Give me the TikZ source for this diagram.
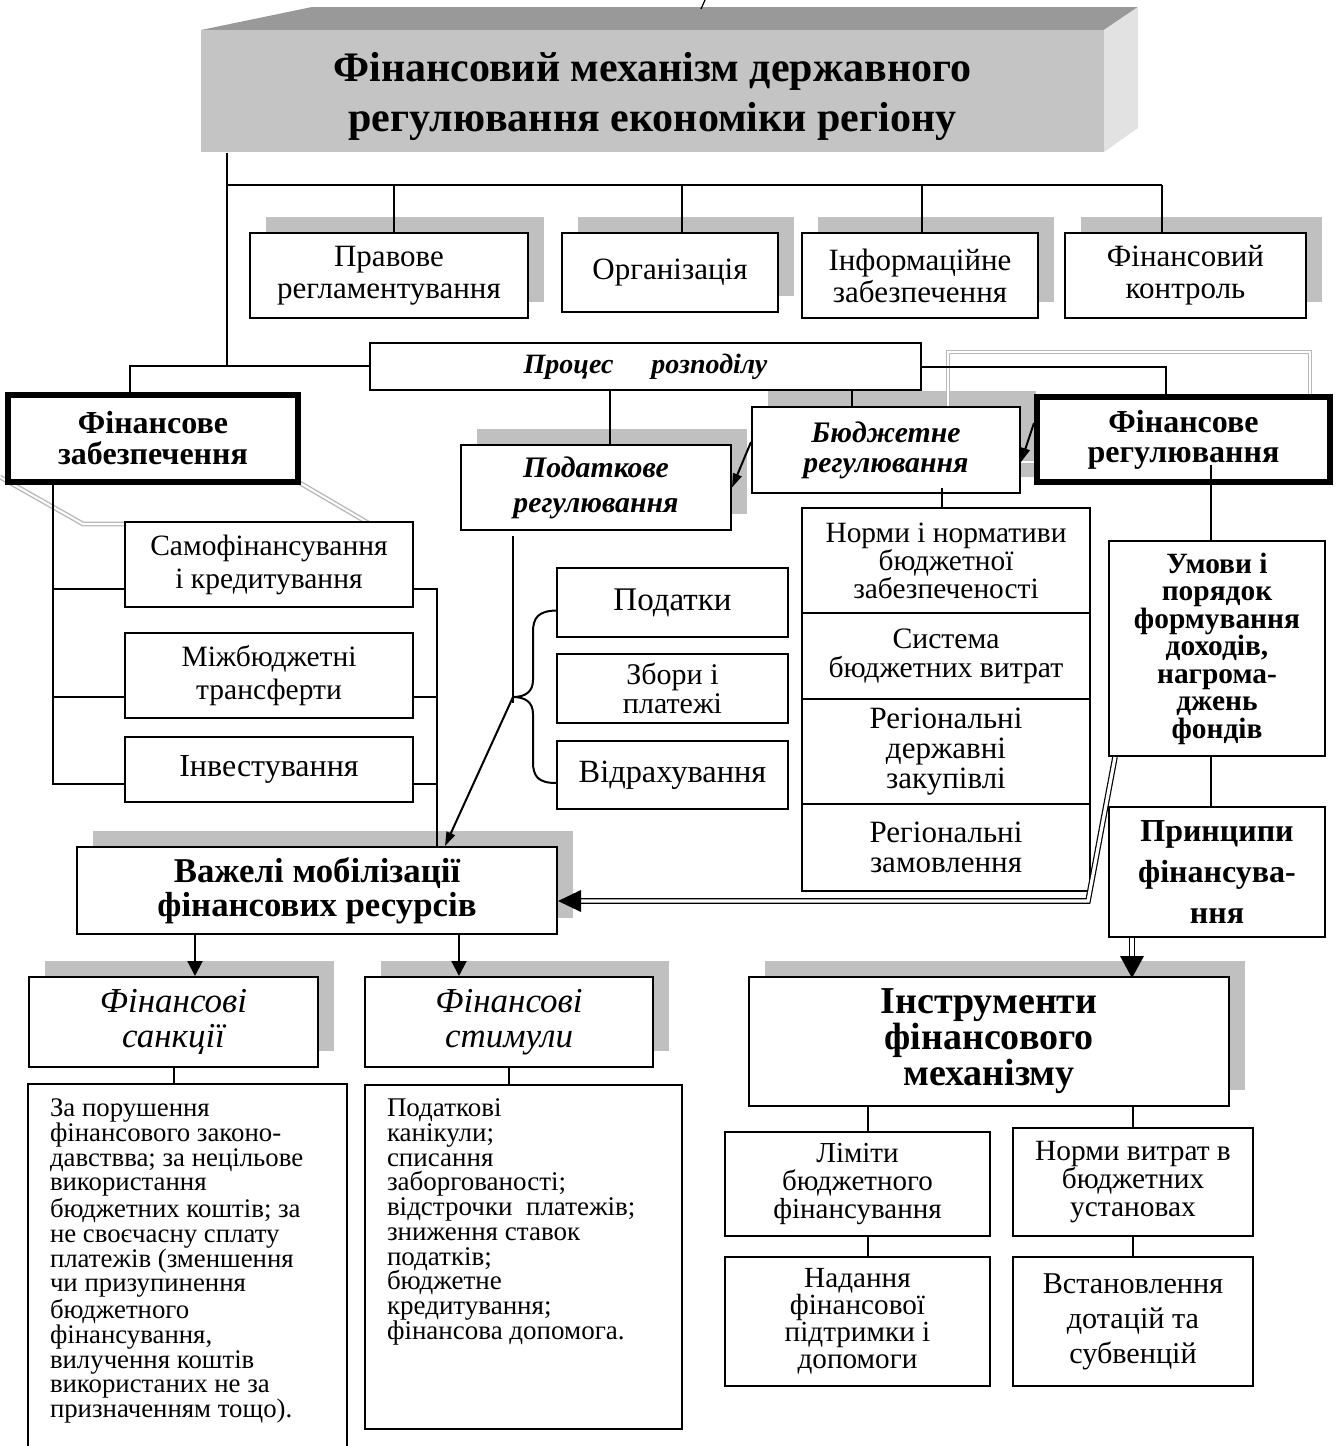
\documentclass[tikz,border=0pt]{standalone}
\usepackage{fontspec}
\setmainfont{Liberation Serif}
\usetikzlibrary{fit,shadows,arrows.meta,calc}
\definecolor{shg}{RGB}{192,192,192}
\definecolor{topg}{RGB}{153,153,153}
\definecolor{frontg}{RGB}{196,196,196}
\definecolor{sideg}{RGB}{226,226,226}
\definecolor{frameg}{RGB}{185,185,185}
\newcommand{\myfs}[2]{\fontsize{#1}{#2}\selectfont}
\newcommand{\rbox}[7]{\node[#1,minimum width={(#4-#2)*0.5pt},minimum height={(#5-#3)*0.5pt}] (#6) at ({(#2+#4)/2},{(#3+#5)/2}) {#7};}
\begin{document}
\begin{tikzpicture}[x=0.5pt,y=-0.5pt,line width=1pt,
  box/.style={draw,fill=white,inner sep=0pt,align=center,line width=1pt},
  thbox/.style={box,line width=3pt},
  shad/.style={drop shadow={shadow xshift=8pt,shadow yshift=8pt,opacity=1,fill=shg}},
  gframe/.style={draw=frameg,double=white,double distance=1pt,line width=0.7pt},
  dbl/.style={line width=0.6pt,double=white,double distance=1.6pt},
  arr/.style={-{Triangle[length=7.5pt,width=7.5pt]}},
  sarr/.style={-{Triangle[length=7pt,width=4.5pt]}}]
\useasboundingbox (0,0) rectangle (1335,1446);

% ---------- title block ----------
\fill[topg] (201,30) -- (312,7) -- (1138,7) -- (1104,30) -- cycle;
\fill[sideg] (1104,30) -- (1138,7) -- (1138,128) -- (1104,152) -- cycle;
\rbox{fill=frontg,inner sep=0pt}{201}{30}{1104}{152}{title}{}
\node[align=center,inner sep=0pt,font=\bfseries\myfs{21}{25}] (titletxt) at ($(title.center)+(0,5)$) {Фінансовий механізм державного\\регулювання економіки регіону};
\draw[line width=0.6pt] (701,9) -- (705,0);

% ---------- top row ----------
\rbox{box,shad,font=\myfs{15.5}{16}}{250}{233}{528}{318}{prav}{Правове\\регламентування}
\rbox{box,shad,font=\myfs{15.5}{16}}{562}{233}{778}{312}{org}{Організація}
\rbox{box,shad,font=\myfs{15.5}{16}}{802}{233}{1038}{318}{inf}{Інформаційне\\забезпечення}
\rbox{box,shad,font=\myfs{15.5}{16}}{1065}{233}{1306}{318}{kontr}{Фінансовий\\контроль}

\coordinate (b0) at (227,185);
\coordinate (b1) at (394,185);
\coordinate (b2) at (682,185);
\coordinate (b3) at (922,185);
\coordinate (b4) at (1162,185);
\coordinate (j1) at (227,366);
\coordinate (j0) at (130,366);
\draw (title.south -| b0) -- (j1);
\draw (b0) -- (b4);
\draw (b1) -- (b1 |- prav.north);
\draw (b2) -- (b2 |- org.north);
\draw (b3) -- (b3 |- inf.north);
\draw (b4) -- (b4 |- kontr.north);

% ---------- gray frames ----------
\draw[gframe] (0,477) -- (83,524) -- (370,524) -- (300,483);
\fill[shg] (768,391) rectangle (1036,477);
\draw[gframe] (948,352) rectangle (1310,462);

% ---------- middle ----------
\rbox{box,font=\bfseries\itshape\myfs{14}{14}}{370}{343}{921}{390}{proc}{Процес\hspace{19pt}розподілу}
\rbox{thbox,font=\bfseries\myfs{16}{15.5}}{8}{395}{298}{482}{fz}{Фінансове\\забезпечення}
\rbox{thbox,font=\bfseries\myfs{16}{15}}{1037}{397}{1330}{482}{fr}{Фінансове\\регулювання}
\rbox{box,font=\bfseries\itshape\myfs{14.9}{15}}{752}{407}{1020}{493}{bud}{Бюджетне\\регулювання}
\rbox{box,shad,font=\bfseries\itshape\myfs{14.9}{17.5}}{461}{445}{731}{530}{pod}{Податкове\\регулювання}

\draw (proc.west |- j1) -- (j0) -- (j0 |- fz.north);
\coordinate (fr1) at (1166,367);
\draw (proc.east |- fr1) -- (fr1) -- (fr1 |- fr.north);
\coordinate (p1) at (610,390);
\coordinate (p2) at (852,390);
\draw (p1) -- (p1 |- pod.north);
\draw (p2) -- (p2 |- bud.north);
\draw[sarr] ([yshift=4pt]bud.west) -- (pod.east);
\draw[sarr] ([yshift=8.25pt]fr.west) -- ([yshift=-6pt]bud.east);

% left column
\rbox{box,font=\myfs{14.75}{16.5}}{125}{522}{413}{607}{samo}{Самофінансування\\і кредитування}
\rbox{box,font=\myfs{14.75}{16.5}}{125}{633}{413}{718}{mij}{Міжбюджетні\\трансферти}
\rbox{box,font=\myfs{16}{16.5}}{125}{737}{413}{802}{inv}{Інвестування}

% norms column
\rbox{box,font=\myfs{14.7}{14}}{802}{508}{1090}{613}{n1}{Норми і нормативи\\бюджетної\\забезпеченості}
\rbox{box,font=\myfs{14.85}{14.5}}{802}{613}{1090}{699}{n2}{Система\\бюджетних витрат}
\rbox{box,font=\myfs{15.5}{14.8}}{802}{699}{1090}{804}{n3}{Регіональні\\державні\\закупівлі}
\rbox{box,font=\myfs{15.5}{15}}{802}{804}{1090}{891}{n4}{Регіональні\\замовлення}
\coordinate (bn) at (942,488);
\draw (bn) -- (bn |- n1.north);

% right column
\rbox{box,font=\bfseries\myfs{14.7}{13.75}}{1109}{541}{1325}{756}{um}{Умови і\\порядок\\формування\\доходів,\\нагрома-\\джень\\фондів}
\rbox{box,font=\bfseries\myfs{16}{20.5}}{1109}{807}{1325}{937}{pr}{Принципи\\фінансува-\\ння}
\coordinate (u0) at (1211,465);
\draw (u0) -- (u0 |- um.north);
\draw ([xshift=-3pt]um.south) -- ([xshift=-3pt]pr.north);

% taxes
\rbox{box,font=\myfs{16.5}{15}}{557}{568}{788}{637}{tax1}{Податки}
\rbox{box,font=\myfs{15}{13}}{557}{654}{788}{723}{tax2}{Збори і\\платежі}
\rbox{box,font=\myfs{16.2}{15}}{557}{741}{788}{809}{tax3}{Відрахування}
\coordinate (bt) at (513,697);
\draw ([yshift=-4pt]tax1.west) .. controls (538,611) and (533,618) .. (533,632) -- (533,680)
      .. controls (533,692) and (525,697) .. (bt)
      .. controls (525,697) and (533,702) .. (533,714) -- (533,762)
      .. controls (533,776) and (538,783) .. ([yshift=-4pt]tax3.west);
\draw ($(pod.south -| bt)+(0,5)$) -- ($(bt)+(0,6)$);

% levers
\rbox{box,shad,font=\bfseries\myfs{17.4}{17}}{77}{847}{557}{934}{vaz}{Важелі мобілізації\\фінансових ресурсів}
\draw[sarr] (bt) -- ($(vaz.north west)+(369,0)$);

\coordinate (lsp) at (53,783);
\draw (fz.south -| lsp) -- (lsp);
\draw ($(samo.south west)+(0,-19)$) -- +(-72,0);
\draw ($(mij.south west)+(0,-22)$) -- +(-72,0);
\draw ($(inv.south west)+(0,-19)$) -- +(-72,0);
\coordinate (rsp) at (437,847);
\draw ($(samo.south east)+(0,-19)$) -| (rsp);
\draw ($(mij.south east)+(0,-22)$) -- +(24,0);
\draw ($(inv.south east)+(0,-19)$) -- +(24,0);

% double arrow from conditions to levers
\draw[dbl] ($(um.south west)+(7,0)$) -- (1088,901) -- ($(vaz.east)+(23,10.5)$);
\fill ($(vaz.east)+(0,10.5)$) -- ++(23,-11) -- ++(0,22) -- cycle;

% sanctions / stimuli
\rbox{box,shad,font=\itshape\myfs{17.5}{17.5}}{29}{977}{318}{1067}{sank}{Фінансові\\санкції}
\rbox{box,shad,font=\itshape\myfs{17.5}{17.5}}{365}{977}{653}{1067}{stim}{Фінансові\\стимули}
\coordinate (va1) at ($(vaz.south west)+(119,0)$);
\coordinate (va2) at ($(vaz.south west)+(383,0)$);
\draw[arr] (va1) -- (va1 |- sank.north);
\draw[arr] (va2) -- (va2 |- stim.north);

\node[inner sep=0pt,fit={(29,1085)(346,1460)}] (sank2) {};
\draw (sank2.south west) -- (sank2.north west) -- (sank2.north east) -- (sank2.south east);
\node[box,fit={(365,1085)(682,1429)}] (stim2) {};
\draw (sank.south) -- (sank.south |- sank2.north);
\draw (stim.south) -- (stim.south |- stim2.north);
\node[anchor=north west,inner sep=0pt,align=left,font=\myfs{13.4}{12.35}] (sanktxt) at (49,1098)
 {За порушення\\фінансового законо-\\давствва; за нецільове\\використання\\бюджетних коштів; за\\не своєчасну сплату\\платежів (зменшення\\чи призупинення\\бюджетного\\фінансування,\\вилучення коштів\\використаних не за\\призначенням тощо).};
\node[anchor=north west,inner sep=0pt,align=left,font=\myfs{13.5}{12.35}] (stimtxt) at (386,1098)
 {Податкові\\канікули;\\списання\\заборгованості;\\відстрочки\enspace платежів;\\зниження ставок\\податків;\\бюджетне\\кредитування;\\фінансова допомога.};

% instruments
\rbox{box,shad,font=\bfseries\myfs{19}{18}}{749}{977}{1229}{1106}{ins}{Інструменти\\фінансового\\механізму}
\draw[dbl] ($(pr.south west)+(24,0)$) -- ++(0,18);
\fill ($(pr.south west)+(24,40)$) -- ++(-12,-22) -- ++(24,0) -- cycle;

\rbox{box,font=\myfs{14.5}{14}}{725}{1132}{990}{1236}{lim}{Ліміти\\бюджетного\\фінансування}
\rbox{box,font=\myfs{14.7}{14}}{1013}{1128}{1253}{1236}{norm}{Норми витрат в\\бюджетних\\установах}
\rbox{box,font=\myfs{14.6}{13.5}}{725}{1257}{990}{1386}{nad}{Надання\\фінансової\\підтримки і\\допомоги}
\rbox{box,font=\myfs{15.1}{17.5}}{1013}{1257}{1253}{1386}{vst}{Встановлення\\дотацій та\\субвенцій}
\coordinate (i1) at ($(ins.south west)+(120,0)$);
\draw (i1) -- (i1 |- lim.north);
\draw (norm.north |- ins.south) -- (norm.north);
\draw (i1 |- lim.south) -- (i1 |- nad.north);
\draw (norm.south) -- (vst.north);
\end{tikzpicture}
\end{document}
